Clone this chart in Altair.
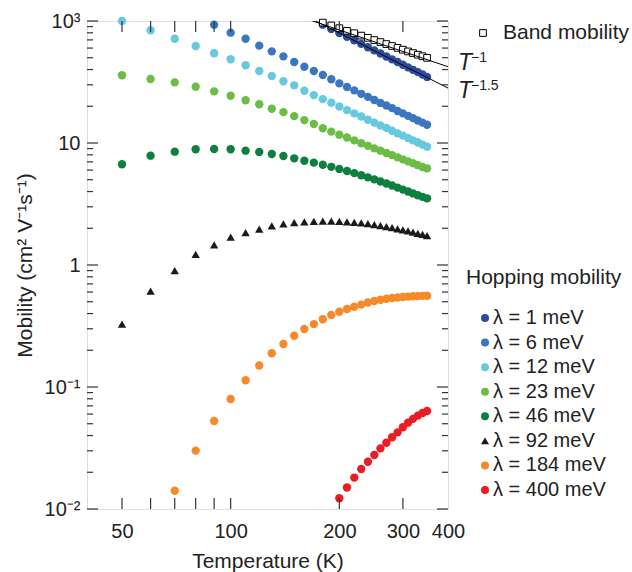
import altair as alt
import pandas as pd

FONT = "Liberation Sans"
INK = "#222222"
TICK = "#333333"

# ---------------- data ----------------
labels = ["λ = 1 meV", "λ = 6 meV", "λ = 12 meV", "λ = 23 meV",
          "λ = 46 meV", "λ = 92 meV", "λ = 184 meV", "λ = 400 meV"]
colors = ["#2b4c9b", "#3d76c0", "#66c9de", "#6cbd45",
          "#0f7f3f", "#1a1a1a", "#f68a2a", "#ec1c24"]
shapes = ["circle", "circle", "circle", "circle",
          "circle", "triangle-up", "circle", "circle"]

lam1_T = [180, 190, 200, 210, 220, 230, 240, 250, 260, 270, 280, 290, 300, 310, 320, 330, 340, 350]
lam1_mu = [93.3, 86.1, 79.8, 74.3, 69.4, 64.9, 60.9, 57.4, 54.1, 51.2, 48.5, 46.1, 43.8, 41.7,
           39.8, 38.1, 36.4, 34.8]

lam6_T = [90, 100, 110, 120, 130, 140, 150, 160, 170, 180, 190, 200, 210, 220, 230, 240, 250,
          260, 270, 280, 290, 300, 310, 320, 330, 340, 350]
lam6_mu = [93.3, 80.2, 71.6, 62.8, 56.4, 51.3, 46.1, 42.2, 38.9, 36.1, 33.3, 30.8, 28.8, 27.0,
           25.3, 23.9, 22.5, 21.3, 20.3, 19.3, 18.3, 17.5, 16.7, 16.0, 15.3, 14.7, 14.1]

full_T = [50, 60, 70, 80, 90, 100, 110, 120, 130, 140, 150, 160, 170, 180, 190, 200, 210, 220,
          230, 240, 250, 260, 270, 280, 290, 300, 310, 320, 330, 340, 350]
lam12_mu = [100, 84, 71.6, 62.4, 54.4, 48.6, 43.4, 38.9, 35.4, 32.1, 29.7, 26.8, 24.7, 22.9,
            21.4, 19.9, 18.6, 17.5, 16.5, 15.5, 14.7, 13.9, 13.3, 12.6, 12.0, 11.5, 11.0, 10.5,
            10.1, 9.7, 9.33]
lam23_mu = [35.9, 33.5, 31.4, 28.9, 26.5, 24.4, 22.4, 20.8, 19.1, 17.9, 16.6, 15.4, 14.3, 13.2,
            12.4, 11.7, 11.1, 10.5, 9.95, 9.48, 9.04, 8.65, 8.28, 7.95, 7.63, 7.34, 7.07, 6.82,
            6.58, 6.36, 6.2]
lam46_mu = [6.69, 7.87, 8.49, 8.88, 8.92, 8.88, 8.65, 8.44, 8.13, 7.82, 7.49, 7.16, 6.90, 6.64,
            6.38, 6.13, 5.89, 5.66, 5.44, 5.23, 5.03, 4.84, 4.66, 4.48, 4.31, 4.15, 4.00, 3.86,
            3.73, 3.62, 3.52]
lam92_mu = [0.328, 0.612, 0.898, 1.224, 1.46, 1.69, 1.84, 1.97, 2.09, 2.17, 2.22, 2.26, 2.28,
            2.29, 2.29, 2.28, 2.26, 2.24, 2.21, 2.18, 2.14, 2.10, 2.06, 2.02, 1.98, 1.94, 1.90,
            1.86, 1.82, 1.78, 1.74]

lam184_T = [70, 80, 90, 100, 110, 120, 130, 140, 150, 160, 170, 180, 190, 200, 210, 220, 230,
            240, 250, 260, 270, 280, 290, 300, 310, 320, 330, 340, 350]
lam184_mu = [0.0141, 0.0301, 0.0526, 0.0797, 0.1135, 0.150, 0.189, 0.225, 0.263, 0.299, 0.328,
             0.359, 0.389, 0.414, 0.436, 0.455, 0.473, 0.493, 0.507, 0.519, 0.529, 0.536, 0.542,
             0.547, 0.551, 0.554, 0.556, 0.558, 0.560]

lam400_T = [200, 210, 220, 230, 240, 250, 260, 270, 280, 290, 300, 310, 320, 330, 340, 350]
lam400_mu = [0.01225, 0.0150, 0.0181, 0.0213, 0.0244, 0.0277, 0.0314, 0.0349, 0.0387, 0.0425,
             0.0468, 0.0510, 0.0548, 0.0583, 0.0612, 0.0636]

band_T = [180, 190, 200, 210, 220, 230, 240, 250, 260, 270, 280, 290, 300, 310, 320, 330, 340, 350]
band_mu = [97, 91.9, 87.3, 83.1, 79.4, 75.9, 72.8, 69.8, 67.2, 64.7, 62.4, 60.2, 58.2, 56.3,
           54.6, 52.9, 51.4, 49.9]

# power-law guide lines (end points)
line_T = [165, 400]
line_m1_mu = [102.3, 42.2]
line_m15_mu = [106.4, 28.2]

# annotation anchors
ann_T = [400, 400]
ann_mu = [45.3, 26.7]
ann_base = ["T", "T"]
ann_sup = ["−1", "−1.5"]

# axis tick values
x_ticks = [50, 60, 70, 80, 90, 100, 200, 300]
x_label_ticks = [50, 100, 200, 300, 400]
y_major = [0.01, 0.1, 1, 10, 100]
y_minor = [0.02, 0.03, 0.04, 0.05, 0.06, 0.07, 0.08, 0.09,
           0.2, 0.3, 0.4, 0.5, 0.6, 0.7, 0.8, 0.9,
           2, 3, 4, 5, 6, 7, 8, 9,
           20, 30, 40, 50, 60, 70, 80, 90]

band_label = ["Band mobility"]
hop_title = ["Hopping mobility"]

# ---------------- tables ----------------
series = [
    (labels[0], lam1_T, lam1_mu),
    (labels[1], lam6_T, lam6_mu),
    (labels[2], full_T, lam12_mu),
    (labels[3], full_T, lam23_mu),
    (labels[4], full_T, lam46_mu),
    (labels[5], full_T, lam92_mu),
    (labels[6], lam184_T, lam184_mu),
    (labels[7], lam400_T, lam400_mu),
]
rows = []
for lab, ts, ms in series:
    for t, m in zip(ts, ms):
        rows.append({"T": t, "mu": m, "lam": lab})
hop_df = pd.DataFrame(rows)

band_df = pd.DataFrame({"T": band_T, "mu": band_mu})
line_df = pd.DataFrame({
    "T": line_T + line_T,
    "mu": line_m1_mu + line_m15_mu,
    "line": ["m1"] * 2 + ["m15"] * 2,
})
ann_df = pd.DataFrame({"T": ann_T, "mu": ann_mu, "base": ann_base, "sup": ann_sup})
xt_df = pd.DataFrame({"T": x_ticks})
leg_df = pd.DataFrame({"lam": labels})

# ---------------- scales & axes ----------------
X_MIN, X_MAX = 40, 400
PLOT_W = 361
xscale = alt.Scale(type="log", domain=[X_MIN, X_MAX], nice=False)
yscale = alt.Scale(type="log", domain=[0.01, 100], nice=False)

# inward y ticks as short two-point segments (tick length expressed along the log x scale)
MAJ_LEN, MIN_LEN = 11, 6
k_maj = 10 ** (MAJ_LEN / PLOT_W)
k_min = 10 ** (MIN_LEN / PLOT_W)
seg_rows = []
for i, v in enumerate(y_major):
    seg_rows += [{"T": X_MIN, "mu": v, "id": f"lM{i}"}, {"T": X_MIN * k_maj, "mu": v, "id": f"lM{i}"},
                 {"T": X_MAX, "mu": v, "id": f"rM{i}"}, {"T": X_MAX / k_maj, "mu": v, "id": f"rM{i}"}]
for i, v in enumerate(y_minor):
    seg_rows += [{"T": X_MIN, "mu": v, "id": f"lm{i}"}, {"T": X_MIN * k_min, "mu": v, "id": f"lm{i}"},
                 {"T": X_MAX, "mu": v, "id": f"rm{i}"}, {"T": X_MAX / k_min, "mu": v, "id": f"rm{i}"}]
ytick_df = pd.DataFrame(seg_rows)

x_axis = alt.Axis(
    orient="bottom", values=x_label_ticks, ticks=False, domain=False, grid=False,
    labelExpr="'' + datum.value", labelPadding=12, labelFlush=False, labelOverlap=False,
    labelFont=FONT, labelFontSize=20, labelColor=INK,
    title="Temperature (K)", titleFont=FONT, titleFontSize=21, titleFontWeight="normal",
    titleColor=INK, titlePadding=9)

y_axis = alt.Axis(
    orient="left", values=y_major, ticks=False, domain=False, grid=False,
    labelExpr="datum.value > 50 ? '10³' : datum.value > 5 ? '10' : datum.value > 0.5 ? '1' : datum.value > 0.05 ? '10⁻¹' : '10⁻²'",
    labelPadding=7, labelOverlap=False, labelFont=FONT, labelFontSize=20, labelColor=INK,
    title="Mobility (cm² V⁻¹s⁻¹)", titleFont=FONT, titleFontSize=21, titleFontWeight="normal",
    titleColor=INK, titlePadding=9)

X = lambda: alt.X("T:Q", scale=xscale, axis=None)
Y = lambda: alt.Y("mu:Q", scale=yscale, axis=None)

# ---------------- data layers ----------------
hop = alt.Chart(hop_df).mark_point(filled=True, size=70, opacity=1, strokeWidth=0).encode(
    x=alt.X("T:Q", scale=xscale, axis=x_axis),
    y=alt.Y("mu:Q", scale=yscale, axis=y_axis),
    color=alt.Color("lam:N", scale=alt.Scale(domain=labels, range=colors), legend=None),
    shape=alt.Shape("lam:N", scale=alt.Scale(domain=labels, range=shapes), legend=None),
)

band = alt.Chart(band_df).mark_point(shape="square", filled=False, size=45, strokeWidth=1,
                                     opacity=1, fill="white", stroke="black").encode(x=X(), y=Y())

lines = alt.Chart(line_df).mark_line(color="black", strokeWidth=1, clip=True).encode(
    x=X(), y=Y(), detail="line:N")

ann_base_layer = alt.Chart(ann_df).mark_text(
    align="left", baseline="middle", dx=10, font=FONT, fontSize=23, fontStyle="italic",
    color=INK).encode(x=X(), y=Y(), text="base:N")

ann_sup_layer = alt.Chart(ann_df).mark_text(
    align="left", baseline="middle", dx=23, dy=-5, font=FONT, fontSize=14, color=INK).encode(
    x=X(), y=Y(), text="sup:N")

# ---------------- inward ticks (mirrored on all sides) ----------------
y_ticks = alt.Chart(ytick_df).mark_line(color=TICK, strokeWidth=1.2).encode(
    x=X(), y=Y(), detail="id:N")

rule_style = dict(color=TICK, strokeWidth=1.2)
xb_ticks = alt.Chart(xt_df).mark_rule(**rule_style).encode(
    x=X(), y=alt.value(477), y2=alt.value(488))
xt_ticks = alt.Chart(xt_df).mark_rule(**rule_style).encode(
    x=X(), y=alt.value(0), y2=alt.value(11))

# ---------------- legends ----------------
band_sym = alt.Chart(pd.DataFrame({"k": band_label})).mark_point(
    shape="square", filled=False, size=45, strokeWidth=1, stroke="black", fill="white",
    opacity=1).encode(x=alt.value(396), y=alt.value(12))
band_txt = alt.Chart(pd.DataFrame({"k": band_label})).mark_text(
    align="left", baseline="middle", font=FONT, fontSize=21, color=INK).encode(
    x=alt.value(416), y=alt.value(12), text="k:N")
hop_ttl = alt.Chart(pd.DataFrame({"k": hop_title})).mark_text(
    align="left", baseline="middle", font=FONT, fontSize=21, color=INK).encode(
    x=alt.value(379), y=alt.value(257), text="k:N")

leg_base = alt.Chart(leg_df).transform_window(
    idx="row_number()"
).transform_calculate(py="297 + (datum.idx - 1) * 24.57")
leg_y = alt.Y("py:Q", scale=None, axis=None)
leg_sym = leg_base.mark_point(filled=True, size=64, opacity=1, strokeWidth=0).encode(
    x=alt.value(398), y=leg_y,
    color=alt.Color("lam:N", scale=alt.Scale(domain=labels, range=colors), legend=None),
    shape=alt.Shape("lam:N", scale=alt.Scale(domain=labels, range=shapes), legend=None),
)
leg_txt = leg_base.mark_text(
    align="left", baseline="middle", font=FONT, fontSize=20, color=INK).encode(
    x=alt.value(406), y=leg_y, text="lam:N")

chart = alt.layer(
    hop, band, lines, ann_base_layer, ann_sup_layer,
    y_ticks, xb_ticks, xt_ticks,
    band_sym, band_txt, hop_ttl, leg_sym, leg_txt,
).resolve_axis(x="independent", y="independent").properties(
    width=361, height=488,
    autosize=alt.AutoSizeParams(type="none"),
    padding={"left": 87, "top": 21, "right": 184, "bottom": 63},
).configure_view(
    stroke="#222222", strokeWidth=1.2
).configure(background="white")

chart.save("out.html", embed_options={"renderer": "svg", "actions": False})
